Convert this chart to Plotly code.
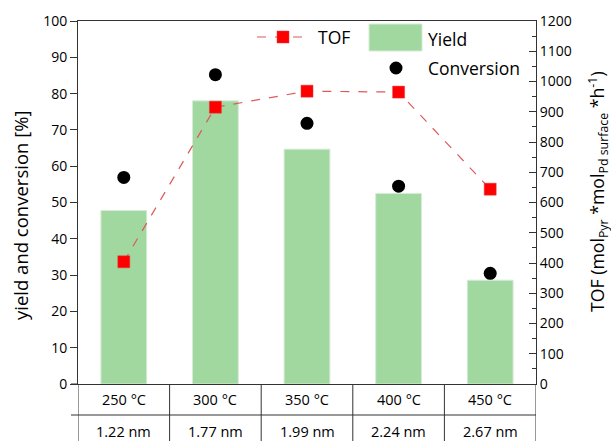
import plotly.graph_objects as go

# Calcination temperature and resulting particle size
temperatures = ["250 °C", "300 °C", "350 °C", "400 °C", "450 °C"]
particle_sizes = ["1.22 nm", "1.77 nm", "1.99 nm", "2.24 nm", "2.67 nm"]

# Measured values
yield_pct = [47.8, 78.0, 64.7, 52.5, 28.6]
conversion_pct = [56.9, 85.2, 71.8, 54.5, 30.5]
tof = [404, 915, 968, 965, 644]

FONT = "Open Sans"
BAR_COLOR = "rgb(160,216,160)"
W, H = 611, 441
L, R, T, B = 78, 75, 21, 57
PW, PH = W - L - R, H - T - B


def px(xp):
    return (xp - L) / PW


def py(yp):
    return (H - B - yp) / PH


fig = go.Figure()

fig.add_trace(go.Bar(
    x=temperatures, y=yield_pct, name="Yield", width=0.5,
    marker=dict(color=BAR_COLOR, line=dict(color="rgb(215,235,215)", width=1)),
    yaxis="y",
))
fig.add_trace(go.Scatter(
    x=temperatures, y=conversion_pct, name="Conversion", mode="markers",
    marker=dict(color="black", size=13, symbol="circle"),
    yaxis="y",
))
fig.add_trace(go.Scatter(
    x=temperatures, y=tof, name="TOF", mode="lines+markers",
    line=dict(color="rgb(220,90,90)", width=1.2, dash="dash"),
    marker=dict(color="red", size=12, symbol="square",
                line=dict(color="rgb(230,60,60)", width=0.5)),
    yaxis="y2",
))

tick_font = dict(family=FONT, size=14, color="black")

fig.update_layout(
    width=W, height=H,
    margin=dict(l=L, r=R, t=T, b=B, pad=0),
    paper_bgcolor="white", plot_bgcolor="white",
    showlegend=False,
    font=dict(family=FONT, color="black"),
    xaxis=dict(
        type="category", categoryorder="array", categoryarray=temperatures,
        range=[-0.5, 4.5], showticklabels=False, ticks="",
        showline=True, linecolor="#333", linewidth=1, mirror=True,
        showgrid=False, zeroline=False,
    ),
    yaxis=dict(
        range=[0, 100], dtick=10, ticks="outside", ticklen=7, tickwidth=1,
        tickcolor="#333", showline=True, linecolor="#333", linewidth=1,
        showgrid=False, zeroline=False, tickfont=tick_font,
    ),
    yaxis2=dict(
        range=[0, 1200], dtick=100, overlaying="y", side="right",
        ticks="inside", ticklen=7, tickwidth=1, tickcolor="#333",
        minor=dict(ticks="inside", ticklen=4, dtick=50, tickcolor="#333"),
        showline=True, linecolor="#333", linewidth=1,
        showgrid=False, zeroline=False, tickfont=tick_font,
    ),
)

shapes = []
annotations = []
line_style = dict(color="#333", width=1)


def label(x, y, text, size, xref="paper", xanchor="center", angle=0):
    annotations.append(dict(x=x, y=y, xref=xref, yref="paper", text=text,
                            showarrow=False, xanchor=xanchor, yanchor="middle",
                            textangle=angle,
                            font=dict(family=FONT, size=size, color="black")))


# Table under the plot: row separator, left/right borders, column separators
shapes.append(dict(type="line", xref="paper", yref="paper",
                   x0=px(71), x1=1, y0=py(415), y1=py(415), line=line_style))
shapes.append(dict(type="line", xref="paper", yref="paper",
                   x0=px(71), x1=0, y0=0, y1=0, line=line_style))
for i in range(len(temperatures) + 1):
    shapes.append(dict(type="line", xref="x", yref="paper",
                       x0=i - 0.5, x1=i - 0.5, y0=0, y1=py(445),
                       line=line_style))
for t, s in zip(temperatures, particle_sizes):
    label(t, py(399.5), t, 14.5, xref="x")
    label(t, py(431), s, 14.5, xref="x")

# Legend drawn as shapes and labels
shapes.append(dict(type="line", xref="paper", yref="paper",
                   x0=px(257), x1=px(308), y0=py(37), y1=py(37),
                   line=dict(color="rgb(220,90,90)", width=1.2, dash="dash")))
shapes.append(dict(type="rect", xref="paper", yref="paper",
                   x0=px(277), x1=px(289), y0=py(43), y1=py(31),
                   fillcolor="red", line=dict(color="rgb(230,60,60)", width=0.5)))
label(px(316), py(37), "TOF", 17.5, xanchor="left")
shapes.append(dict(type="rect", xref="paper", yref="paper",
                   x0=px(369), x1=px(422), y0=py(51), y1=py(24),
                   fillcolor=BAR_COLOR, line=dict(color="rgb(215,235,215)", width=1)))
label(px(426), py(39), "Yield", 17.5, xanchor="left")
shapes.append(dict(type="circle", xref="paper", yref="paper",
                   x0=px(389.5), x1=px(402.5), y0=py(74.5), y1=py(61.5),
                   fillcolor="black", line=dict(color="black", width=0)))
label(px(426), py(68), "Conversion", 17.5, xanchor="left")

# Axis titles
label(px(20), py(215), "yield and conversion [%]", 18.5, angle=-90)
label(px(598), py(192),
      "TOF (mol<sub>Pyr</sub> *mol<sub>Pd surface</sub> *h<sup>-1</sup>)",
      17.7, angle=-90)

fig.update_layout(shapes=shapes, annotations=annotations)

fig.write_html("out.html")
